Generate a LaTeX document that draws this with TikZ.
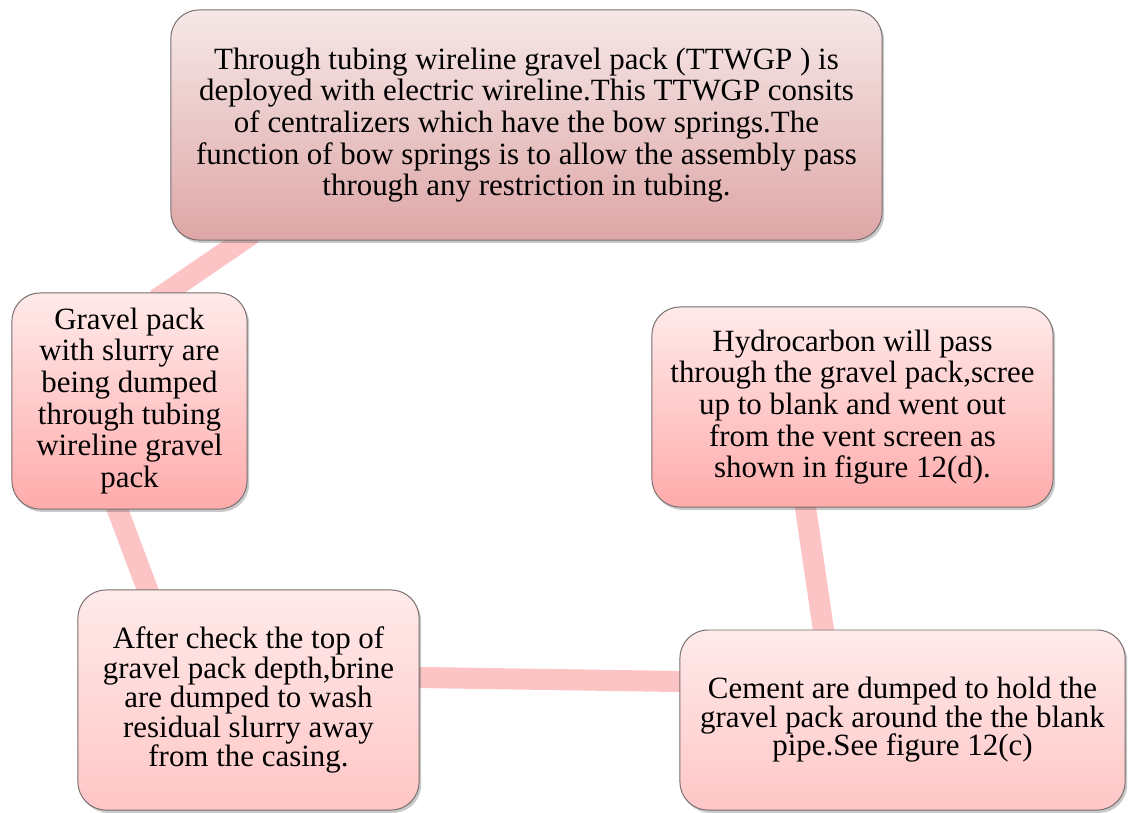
\documentclass[tikz,border=0pt]{standalone}
\usepackage{fontspec}
\setmainfont{Liberation Serif}
\usetikzlibrary{calc,shadows,backgrounds}

\definecolor{boxTop}{RGB}{255,234,234}
\definecolor{boxBot}{RGB}{255,171,171}
\definecolor{boxBotLow}{RGB}{255,198,198}
\definecolor{headTop}{RGB}{246,232,232}
\definecolor{headBot}{RGB}{222,166,166}
\definecolor{linkC}{RGB}{252,196,196}
\definecolor{rimC}{RGB}{120,110,110}

\tikzstyle{bS}=[rectangle,rounded corners=0.7cm,draw=rimC,line width=0.7pt,inner sep=0pt,align=center,
    font=\fontsize{22}{22.5}\selectfont,top color=boxTop,bottom color=boxBot,
    drop shadow={shadow xshift=1.5pt,shadow yshift=-2pt,opacity=0.3,fill=black!70}]
\tikzstyle{bH}=[bS,top color=headTop,bottom color=headBot]
\tikzstyle{bL}=[bS,bottom color=boxBotLow,font=\fontsize{22}{21}\selectfont]
\tikzstyle{eL}=[line width=15pt,draw=linkC,shorten <=-9pt,shorten >=-9pt]

\begin{document}
\begin{tikzpicture}[x=0.025cm,y=-0.025cm]
    \useasboundingbox (0,0) rectangle (1136,812);
    \draw (526.5,125) node[bH,minimum width=17.775cm,minimum height=5.75cm] (ttw)
        {Through tubing wireline gravel pack (TTWGP ) is\\deployed with electric wireline.This TTWGP consits\\of centralizers which have the bow springs.The\\function of bow springs is to allow the assembly pass\\through any restriction in tubing.};
    \draw (129.5,401) node[bS,minimum width=5.875cm,minimum height=5.4cm] (grav)
        {Gravel pack\\with slurry are\\being dumped\\through tubing\\wireline gravel\\pack};
    \draw (852.5,407) node[bS,minimum width=10.025cm,minimum height=5cm] (hydro)
        {Hydrocarbon will pass\\through the gravel pack,scree\\up to blank and went out\\from the vent screen as\\shown in figure 12(d).};
    \draw (248.5,700) node[bL,minimum width=8.525cm,minimum height=5.5cm] (brine)
        {After check the top of\\gravel pack depth,brine\\are dumped to wash\\residual slurry away\\from the casing.};
    \draw (902.5,720) node[bL,minimum width=11.125cm,minimum height=4.5cm,font=\fontsize{22}{20.3}\selectfont] (cement)
        {Cement are dumped to hold the\\gravel pack around the the blank\\pipe.See figure 12(c)};

    \begin{scope}[on background layer]
    \path
        ($(ttw.south west)+(72,0)$) edge[eL] ($(grav.north west)+(155,0)$)
        ($(grav.south west)+(106,0)$) edge[eL] ($(brine.north west)+(70,0)$)
        ($(brine.north east)+(0,88)$) edge[eL] ($(cement.north west)+(0,52)$)
        ($(hydro.south west)+(154,0)$) edge[eL] ($(cement.north west)+(144,0)$)
    ;
    \end{scope}
\end{tikzpicture}
\end{document}
